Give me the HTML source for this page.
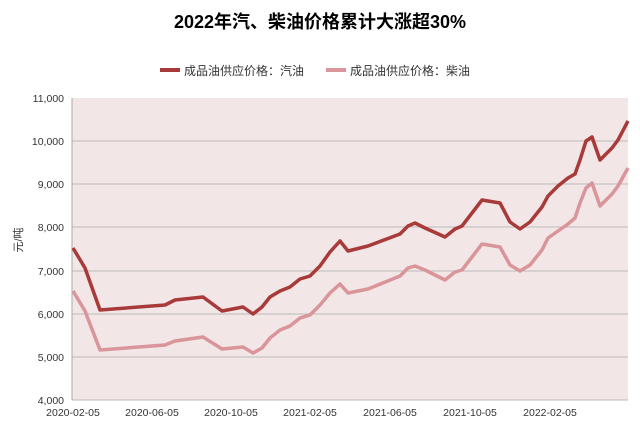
<!DOCTYPE html>
<html><head><meta charset="utf-8"><style>
body{margin:0;background:#fff;width:640px;height:427px;overflow:hidden}
svg{font-family:"Liberation Sans","Noto Sans CJK SC",sans-serif}
</style></head><body>
<svg width="640" height="427" viewBox="0 0 640 427">
<text x="320" y="28" text-anchor="middle" font-size="18" font-weight="bold" fill="#000">2022年汽、柴油价格累计大涨超30%</text>
<line x1="160" y1="70" x2="180" y2="70" stroke="#a83a3a" stroke-width="4"/>
<text x="184" y="75" font-size="12" fill="#333">成品油供应价格：汽油</text>
<line x1="326" y1="70" x2="346" y2="70" stroke="#d9959a" stroke-width="4"/>
<text x="350" y="75" font-size="12" fill="#333">成品油供应价格：柴油</text>
<rect x="72" y="98" width="556" height="302" fill="#f2e6e6"/>
<g stroke="#bbb" stroke-width="1">
<line x1="72" y1="141" x2="628" y2="141"/><line x1="72" y1="184" x2="628" y2="184"/>
<line x1="72" y1="227" x2="628" y2="227"/><line x1="72" y1="271" x2="628" y2="271"/>
<line x1="72" y1="314" x2="628" y2="314"/><line x1="72" y1="357" x2="628" y2="357"/>
<line x1="72" y1="400" x2="628" y2="400"/>
</g>
<line x1="72" y1="98" x2="72" y2="400" stroke="#aaa"/>
<g font-size="10.5" fill="#333" text-anchor="end">
<text x="64" y="102">11,000</text><text x="64" y="145">10,000</text><text x="64" y="188">9,000</text>
<text x="64" y="231">8,000</text><text x="64" y="275">7,000</text><text x="64" y="318">6,000</text>
<text x="64" y="361">5,000</text><text x="64" y="404">4,000</text>
</g>
<g font-size="10.5" fill="#333" text-anchor="middle">
<text x="73" y="416">2020-02-05</text><text x="152" y="416">2020-06-05</text><text x="231" y="416">2020-10-05</text>
<text x="310" y="416">2021-02-05</text><text x="390" y="416">2021-06-05</text><text x="470" y="416">2021-10-05</text>
<text x="550" y="416">2022-02-05</text>
</g>
<text transform="translate(22,240) rotate(-90)" font-size="11" text-anchor="middle" fill="#333">元/吨</text>
<polyline fill="none" stroke="#d9959a" stroke-width="3.5" stroke-linejoin="round" points="73,291 85,311 100,350 165,345 175,341 203,337 222,349 243,347 253,353 262,348 270,338 280,330 290,326 300,318 310,315 320,305 330,293 340,284 348,293 368,289 400,276 408,268 415,266 425,270 445,280 455,272 462,270 472,257 482,244 500,247 510,265 520,271 530,265 542,250 548,238 558,231 568,224 575,218 580,203 586,188 592,183 600,206 612,194 618,186 628,168"/>
<polyline fill="none" stroke="#a83a3a" stroke-width="3.5" stroke-linejoin="round" points="73,248 85,268 100,310 165,305 175,300 203,297 222,311 243,307 253,314 262,307 270,297 280,291 290,287 300,279 310,276 320,266 330,252 340,241 348,251 368,246 400,234 408,226 415,223 425,228 445,237 455,229 462,226 472,213 482,200 500,203 510,222 520,229 530,222 542,207 548,196 558,186 568,178 575,174 580,160 586,141 592,137 600,160 612,148 618,140 628,121"/>
</svg>
</body></html>
